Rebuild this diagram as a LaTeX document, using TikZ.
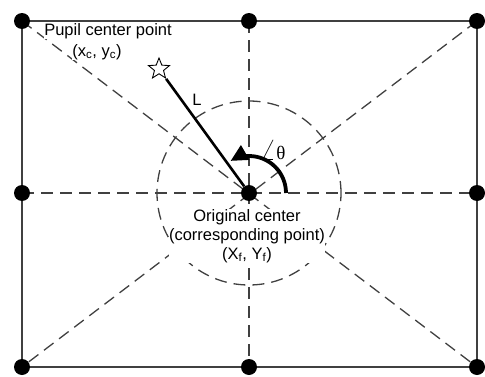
\documentclass[tikz,border=0pt]{standalone}
\usepackage{graphicx}
\usepackage{fontspec}
\setmainfont{Liberation Sans}
\newfontfamily\thetafont{Liberation Serif}
\usetikzlibrary{positioning,shapes.geometric,arrows.meta,backgrounds}

\begin{document}
\begin{tikzpicture}[
    x=1pt, y=1pt,
    font=\fontsize{16.5}{19}\selectfont,
    dot/.style={
        circle,
        fill=black,
        inner sep=0pt,
        minimum size=16pt
    },
    frame/.style={
        draw=black!75,
        line width=1.3pt
    },
    dashline/.style={
        draw=black!75,
        line width=1.3pt,
        dash pattern=on 12pt off 7pt
    },
    lenline/.style={line width=2.6pt},
    anglearrow/.style={
        line width=3.8pt,
        -{Triangle[length=17pt,width=16pt]}
    },
    pupil/.style={
        star,
        star points=5,
        star point ratio=2.3,
        draw,
        fill=white,
        line width=0.9pt,
        inner sep=0pt,
        minimum size=22pt
    },
    txt/.style={inner sep=0.5pt, align=center, fill=white}
]
\useasboundingbox (0,0) rectangle (485,376);

% GRID: points on the frame
\node[dot] (tl) at (22,355) {};
\node[dot] (tm) at (249,355) {};
\node[dot] (tr) at (477,355) {};
\node[dot] (ml) at (22,183) {};
\node[dot] (ctr) at (249,183) {};
\node[dot] (mr) at (477,183) {};
\node[dot] (bl) at (22,9) {};
\node[dot] (bm) at (249,9) {};
\node[dot] (br) at (477,9) {};

\begin{scope}[on background layer]
\draw[frame] (tl.center) -- (tr.center) -- (br.center) -- (bl.center) -- cycle;
\draw[dashline] (tl.center) -- (br.center);
\draw[dashline] (tr.center) -- (bl.center);
\draw[dashline] (tm.center) -- (bm.center);
\draw[dashline] (ml.center) -- (mr.center);
\draw[dashline] (ctr.center) circle (92pt);
\end{scope}

% pupil point and angle
\node[pupil] (star) at (159,307) {};
\draw[lenline] (star) -- (ctr);
\draw[anglearrow] ([shift={(0:37pt)}]ctr.center) arc[start angle=0, end angle=120, radius=37pt];

% labels
\node[txt] (pupiltxt) at (108,345) {Pupil center point};
\node[txt] (pupilxy) at (97,324) {(x\textsubscript{c}, y\textsubscript{c})};
\node[txt] (lentxt) at (197,276) {L};
\node[txt, fill=none] (angtxt) at (273,226)
{\fontsize{19}{22}\selectfont\scalebox{1.4}{$\angle$}\thetafont θ};
\node[txt] (origtxt) at (247,140)
{Original center\\(corresponding point)\\(X\textsubscript{f}, Y\textsubscript{f})};

\end{tikzpicture}
\end{document}
